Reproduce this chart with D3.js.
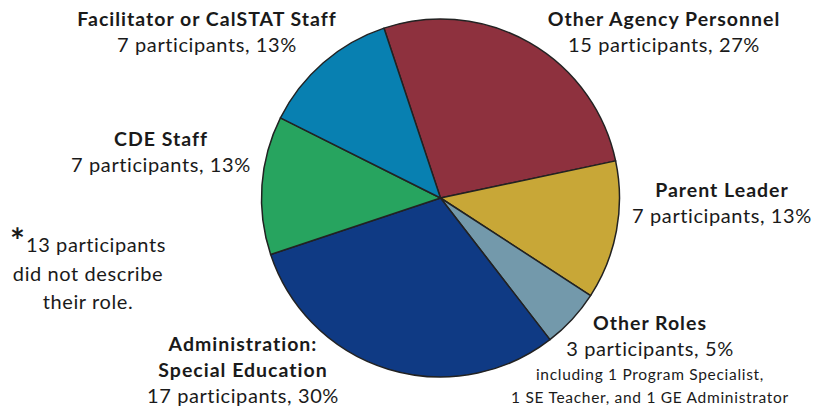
<!DOCTYPE html>
<html>
<head>
<meta charset="utf-8">
<script src="https://cdn.jsdelivr.net/npm/d3@7"></script>
<style>
  body { margin: 0; background: #fff; }
  text { font-family: Lato, "Noto Sans", sans-serif; fill: #1a1a1a; }
</style>
</head>
<body>
<script>
// data
var roles = ["Other Agency Personnel", "Parent Leader", "Other Roles", "Administration: Special Education", "CDE Staff", "Facilitator or CalSTAT Staff"];
var counts = [15, 7, 3, 17, 7, 7];
var percents = [27, 13, 5, 30, 13, 13];
var noteLines = ["13 participants", "did not describe", "their role."];
var otherRolesDetail = ["including 1 Program Specialist,", "1 SE Teacher, and 1 GE Administrator"];

var colors = ["#8e313e", "#c8a737", "#7399ab", "#0f3a84", "#27a45f", "#0880b1"];

var w = 817, h = 408;
var cx = 440.5, cy = 198, r = 179;

var svg = d3.select("body").append("svg")
  .attr("width", w)
  .attr("height", h);

var color = d3.scaleOrdinal().domain(roles).range(colors);

var start = -18.4 * Math.PI / 180;
var pie = d3.pie().sort(null).value(function(d, i) { return counts[i]; })
  .startAngle(start).endAngle(start + 2 * Math.PI);
var arc = d3.arc().innerRadius(0).outerRadius(r);

var g = svg.append("g").attr("transform", "translate(" + cx + "," + cy + ")");
g.selectAll("path")
  .data(pie(roles))
  .enter()
  .append("path")
    .attr("d", arc)
    .attr("fill", function(d) { return color(d.data); })
    .attr("stroke", "#222")
    .attr("stroke-width", 1.5)
    .attr("stroke-linejoin", "round");

// label layout: title lines (bold), then count line
var labelPos = [
  {x: 664, y: 26, title: ["Other Agency Personnel"]},
  {x: 722, y: 197, title: ["Parent Leader"]},
  {x: 650, y: 330, title: ["Other Roles"]},
  {x: 243, y: 351, title: ["Administration:", "Special Education"]},
  {x: 161, y: 146, title: ["CDE Staff"]},
  {x: 207, y: 26, title: ["Facilitator or CalSTAT Staff"]}
];
var lineH = 26;

roles.forEach(function(role, i) {
  var p = labelPos[i];
  var t = svg.append("g").attr("class", "label");
  p.title.forEach(function(line, j) {
    t.append("text")
      .attr("x", p.x).attr("y", p.y + j * lineH)
      .attr("text-anchor", "middle")
      .attr("font-size", 19.5)
      .attr("font-weight", "bold")
      .attr("letter-spacing", 1)
      .text(line);
  });
  t.append("text")
    .attr("x", p.x).attr("y", p.y + p.title.length * lineH)
    .attr("text-anchor", "middle")
    .attr("font-size", 20)
    .attr("letter-spacing", 0.6)
    .text(counts[i] + " participants, " + percents[i] + "%");
  if (role == "Other Roles") {
    otherRolesDetail.forEach(function(line, j) {
      t.append("text")
        .attr("x", p.x).attr("y", 380 + j * 23)
        .attr("text-anchor", "middle")
        .attr("font-size", 15.5)
        .attr("letter-spacing", 0.7)
        .text(line);
    });
  }
});

// note about missing roles
var note = svg.append("g");
noteLines.forEach(function(line, j) {
  note.append("text")
    .attr("x", j == 0 ? 96 : 88).attr("y", 252 + j * 28.5)
    .attr("text-anchor", "middle")
    .attr("font-size", 20)
    .attr("letter-spacing", 0.6)
    .text(line);
});
note.append("text")
  .attr("x", 17.5).attr("y", 253)
  .attr("text-anchor", "middle")
  .attr("font-size", 35)
  .attr("font-weight", "bold")
  .text("*");
</script>
</body>
</html>
